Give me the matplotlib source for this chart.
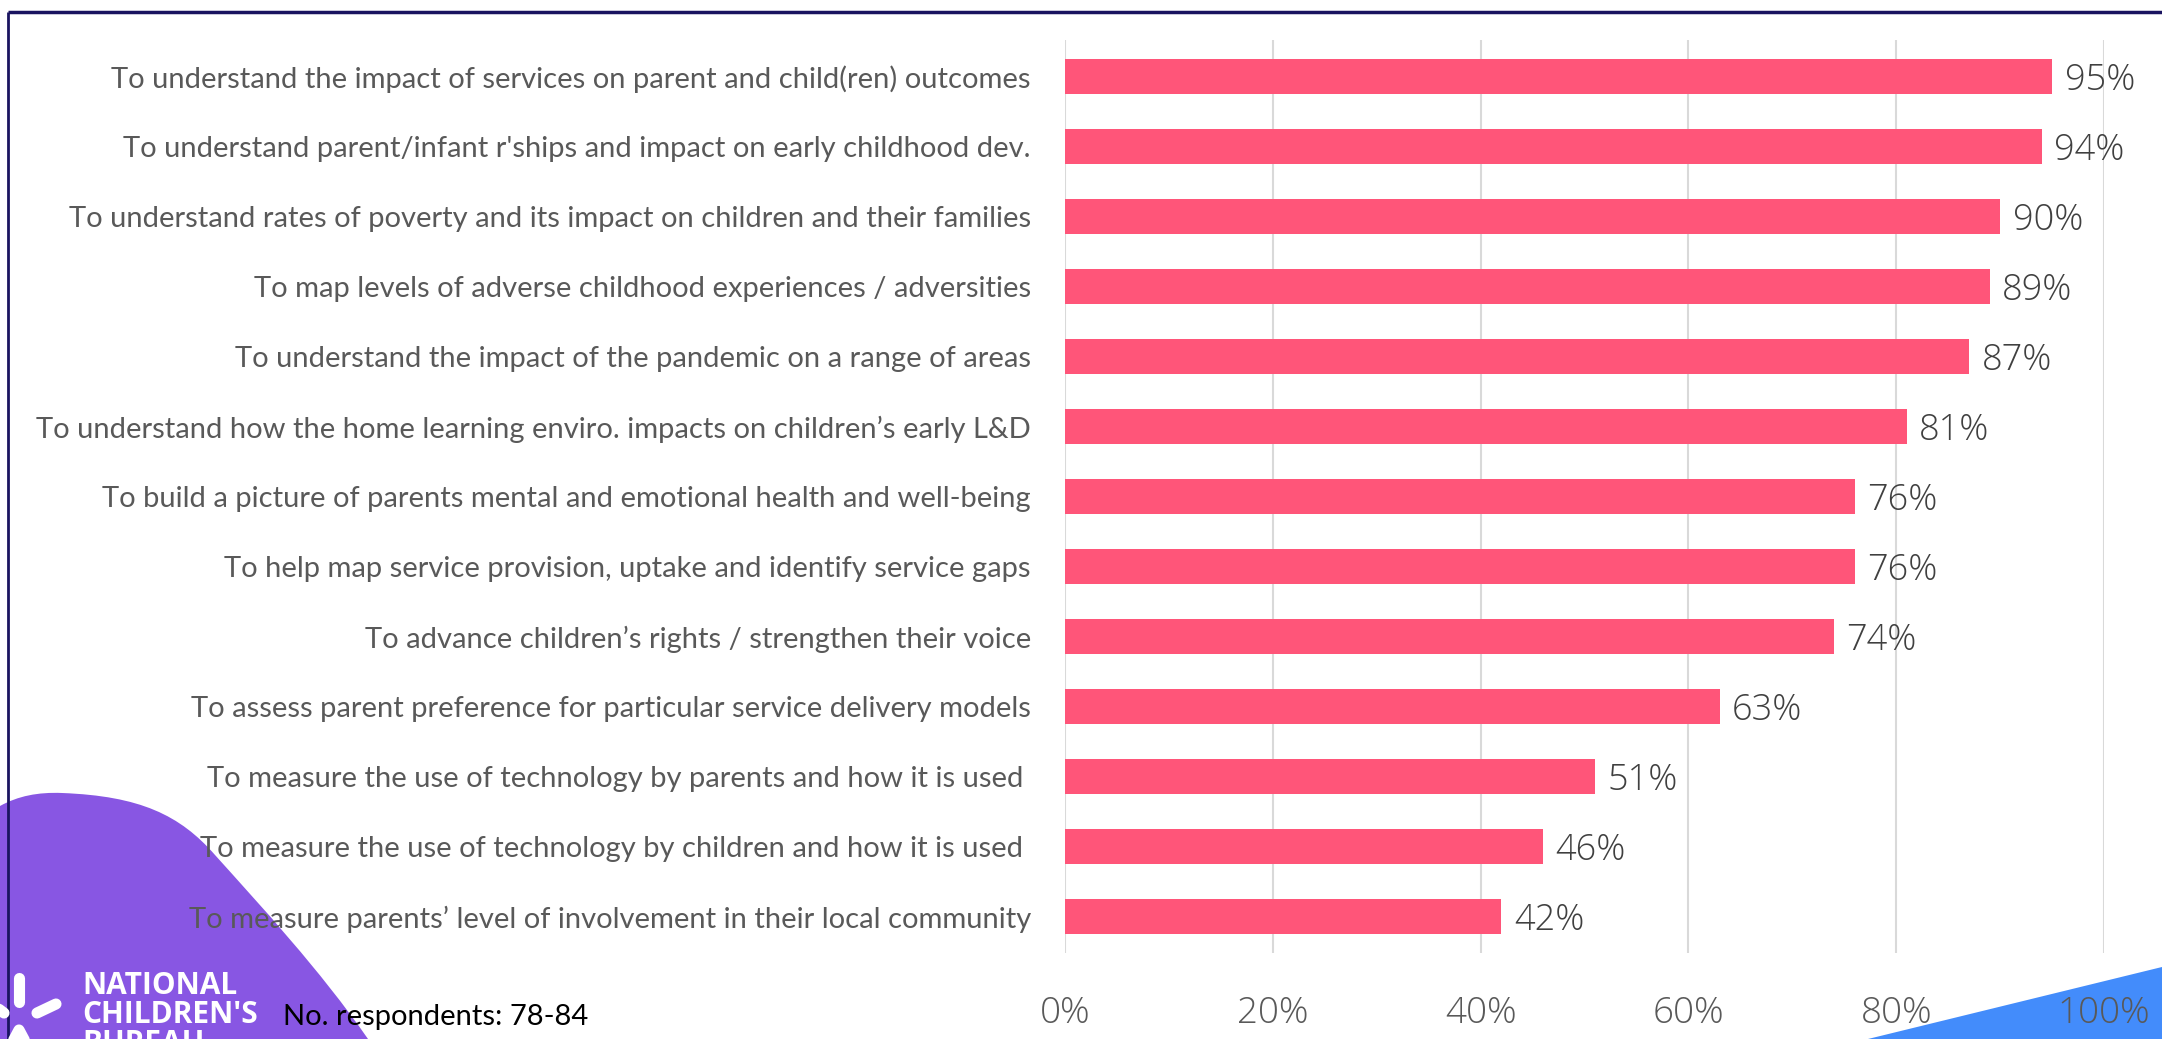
import matplotlib.pyplot as plt
from matplotlib.path import Path
from matplotlib.patches import PathPatch, Polygon

plt.rcParams['font.family'] = ['Lato', 'DejaVu Sans']
num_font = ['Open Sans', 'DejaVu Sans']

purposes = [
    "To understand the impact of services on parent and child(ren) outcomes",
    "To understand parent/infant r'ships and impact on early childhood dev.",
    "To understand rates of poverty and its impact on children and their families",
    "To map levels of adverse childhood experiences / adversities",
    "To understand the impact of the pandemic on a range of areas",
    "To understand how the home learning enviro. impacts on children\u2019s early L&D",
    "To build a picture of parents mental and emotional health and well-being",
    "To help map service provision, uptake and identify service gaps",
    "To advance children\u2019s rights / strengthen their voice",
    "To assess parent preference for particular service delivery models",
    "To measure the use of technology by parents and how it is used ",
    "To measure the use of technology by children and how it is used ",
    "To measure parents\u2019 level of involvement in their local community",
]
shares = [95, 94, 90, 89, 87, 81, 76, 76, 74, 63, 51, 46, 42]
xticks = [0, 20, 40, 60, 80, 100]
respondents = "No. respondents: 78-84"

W, H = 2162, 1039
fig = plt.figure(figsize=(W / 100, H / 100), dpi=100)

# background layer: frame lines, purple wave, blue corner, logo
bg = fig.add_axes([0, 0, 1, 1], zorder=0)
bg.set_xlim(0, W)
bg.set_ylim(H, 0)
bg.axis('off')

wave = Path(
    [(0, 1039), (0, 806), (18, 796), (38, 792), (62, 793),
     (140, 796), (180, 815), (215, 855),
     (260, 905), (320, 970), (368, 1039), (0, 1039)],
    [Path.MOVETO, Path.LINETO, Path.CURVE4, Path.CURVE4, Path.CURVE4,
     Path.CURVE4, Path.CURVE4, Path.CURVE4,
     Path.CURVE4, Path.CURVE4, Path.CURVE4, Path.CLOSEPOLY])
bg.add_patch(PathPatch(wave, facecolor='#8856e3', edgecolor='none'))
bg.add_patch(Polygon([(1868, 1039), (W, 967), (W, 1039)], closed=True,
                     facecolor='#438cfb', edgecolor='none'))

bg.plot([8, W], [12, 12], color='#1a1460', lw=2.5, solid_capstyle='butt')
bg.plot([8, 8], [12, H], color='#1a1460', lw=2, solid_capstyle='butt')

# logo mark and name
for seg in [([19, 19], [978, 1002]), ([37, 56], [1013, 1004]),
            ([11, 19, 27], [1045, 1030, 1045]), ([-4, 4], [1007, 1013])]:
    bg.plot(seg[0], seg[1], color='white', lw=8, solid_capstyle='round',
            solid_joinstyle='round')
for i, word in enumerate(["NATIONAL", "CHILDREN'S", "BUREAU"]):
    bg.text(82, 994 + 29 * i, word, color='white', fontsize=21.5,
            fontweight='bold', family=num_font,
            va='baseline', ha='left')

bg.text(283, 1025, respondents, color='black', fontsize=21,
        va='baseline', ha='left')

# main bar chart
ax = fig.add_axes([1065 / W, 1 - 953 / H, (2104 - 1065) / W, (953 - 40) / H],
                  zorder=1)
ax.patch.set_alpha(0)
ypos = list(range(len(purposes)))
ax.barh(ypos, shares, height=0.49, color='#ff5579', zorder=2)
for y, v in zip(ypos, shares):
    ax.text(v + 1.2, y + 0.06, f"{v}%", va='center', ha='left', fontsize=26,
            color='#404040', family=num_font, fontweight='light', zorder=3)

ax.set_xlim(0, 100)
ax.set_ylim(len(purposes) - 0.48, -0.52)
ax.set_xticks(xticks)
ax.set_xticklabels([f"{t}%" for t in xticks], family=num_font,
                   fontweight='light')
ax.set_yticks(ypos)
ax.set_yticklabels(purposes)
ax.tick_params(axis='y', length=0, pad=24.5, labelsize=21, labelcolor='#595959')
ax.tick_params(axis='x', length=0, pad=30, labelsize=26.5, labelcolor='#595959')
ax.grid(axis='x', color='#d9d9d9', lw=1.5, zorder=0)
for s in ax.spines.values():
    s.set_visible(False)

fig.savefig('out.png', dpi=100)
